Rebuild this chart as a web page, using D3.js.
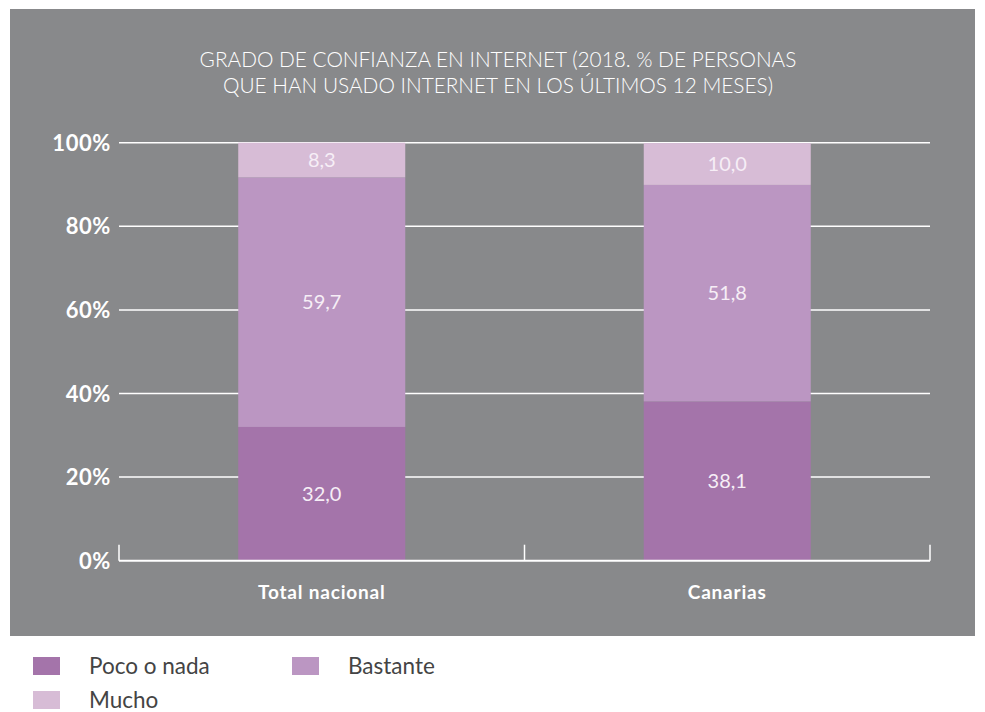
<!DOCTYPE html>
<html><head><meta charset="utf-8">
<script src="https://cdn.jsdelivr.net/npm/d3@7"></script>
<style>body{margin:0;background:#fff}svg{display:block}</style>
</head><body>
<svg id="c" width="985" height="712"></svg>
<script>
const categories = ["Total nacional", "Canarias"];
const seriesNames = ["Poco o nada", "Bastante", "Mucho"];
const pocoONada = [32.0, 38.1];
const bastante = [59.7, 51.8];
const mucho = [8.3, 10.0];
const yTicks = [0, 20, 40, 60, 80, 100];
const titleLines = ["GRADO DE CONFIANZA EN INTERNET (2018. % DE PERSONAS", "QUE HAN USADO INTERNET EN LOS ÚLTIMOS 12 MESES)"];
const colors = ["#a474aa", "#bb96c2", "#d7bcd6"];

const svg = d3.select("#c");
svg.append("rect").attr("x", 10).attr("y", 9).attr("width", 965).attr("height", 627).attr("fill", "#88898b");

svg.append("g").selectAll("text").data(titleLines).join("text")
  .attr("x", 498).attr("y", (d, i) => 67 + i * 26)
  .attr("text-anchor", "middle").attr("fill", "#fff")
  .attr("font-family", "Lato").attr("font-weight", 300).attr("font-size", 20.8).text(d => d);

const x = d3.scaleBand().domain(categories).range([119, 930]).paddingInner(0).paddingOuter(0);
const y = d3.scaleLinear().domain([0, 100]).range([560.7, 142.7]);
const barW = 167;

// grid
svg.append("g").selectAll("line").data(yTicks.filter(d => d > 0)).join("line")
  .attr("x1", 119).attr("x2", 930).attr("y1", d => y(d)).attr("y2", d => y(d))
  .attr("stroke", "#fff").attr("stroke-width", 1.5);

const table = categories.map((c, i) => ({cat: c, "Poco o nada": pocoONada[i], "Bastante": bastante[i], "Mucho": mucho[i]}));
const stack = d3.stack().keys(seriesNames)(table);

const g = svg.append("g");
stack.forEach((s, si) => {
  g.selectAll(null).data(s).join("rect")
    .attr("x", d => x(d.data.cat) + (x.bandwidth() - barW) / 2)
    .attr("width", barW)
    .attr("y", d => y(d[1]))
    .attr("height", d => y(d[0]) - y(d[1]))
    .attr("fill", colors[si]);
  g.selectAll(null).data(s).join("text")
    .attr("x", d => x(d.data.cat) + x.bandwidth() / 2)
    .attr("y", d => (y(d[0]) + y(d[1])) / 2 + 7)
    .attr("text-anchor", "middle").attr("fill", "#f6eef6")
    .attr("font-family", "Lato").attr("font-size", 20)
    .text(d => (d[1] - d[0]).toFixed(1).replace(".", ","));
});

// baseline + ticks
svg.append("line").attr("x1", 119).attr("x2", 930).attr("y1", y(0)).attr("y2", y(0))
  .attr("stroke", "#fff").attr("stroke-width", 2);
const edges = [119, ...categories.map(c => x(c) + x.bandwidth())];
svg.append("g").selectAll("line").data(edges).join("line")
  .attr("x1", d => d).attr("x2", d => d).attr("y1", y(0)).attr("y2", y(0) - 16)
  .attr("stroke", "#fff").attr("stroke-width", 1.5);

// y labels
svg.append("g").selectAll("text").data(yTicks).join("text")
  .attr("x", 111).attr("y", d => y(d) + 8).attr("text-anchor", "end")
  .attr("fill", "#fff").attr("font-family", "Lato").attr("font-weight", "bold")
  .attr("font-size", 22).attr("letter-spacing", 0.6).text(d => d + "%");

// category labels
svg.append("g").selectAll("text").data(categories).join("text")
  .attr("x", d => x(d) + x.bandwidth() / 2).attr("y", 599)
  .attr("text-anchor", "middle").attr("fill", "#fff")
  .attr("font-family", "Lato").attr("font-weight", "bold").attr("font-size", 19)
  .attr("letter-spacing", 0.8)
  .text(d => d);

// legend
const legPos = [[33, 657], [292, 657], [33, 691]];
const lg = svg.append("g").selectAll("g").data(seriesNames).join("g")
  .attr("transform", (d, i) => `translate(${legPos[i][0]},${legPos[i][1]})`);
lg.append("rect").attr("width", 27).attr("height", 18).attr("fill", (d, i) => colors[i]);
lg.append("text").attr("x", 56).attr("y", 17).attr("fill", "#444")
  .attr("font-family", "Lato").attr("font-size", 22.5).text(d => d);
</script>
</body></html>
